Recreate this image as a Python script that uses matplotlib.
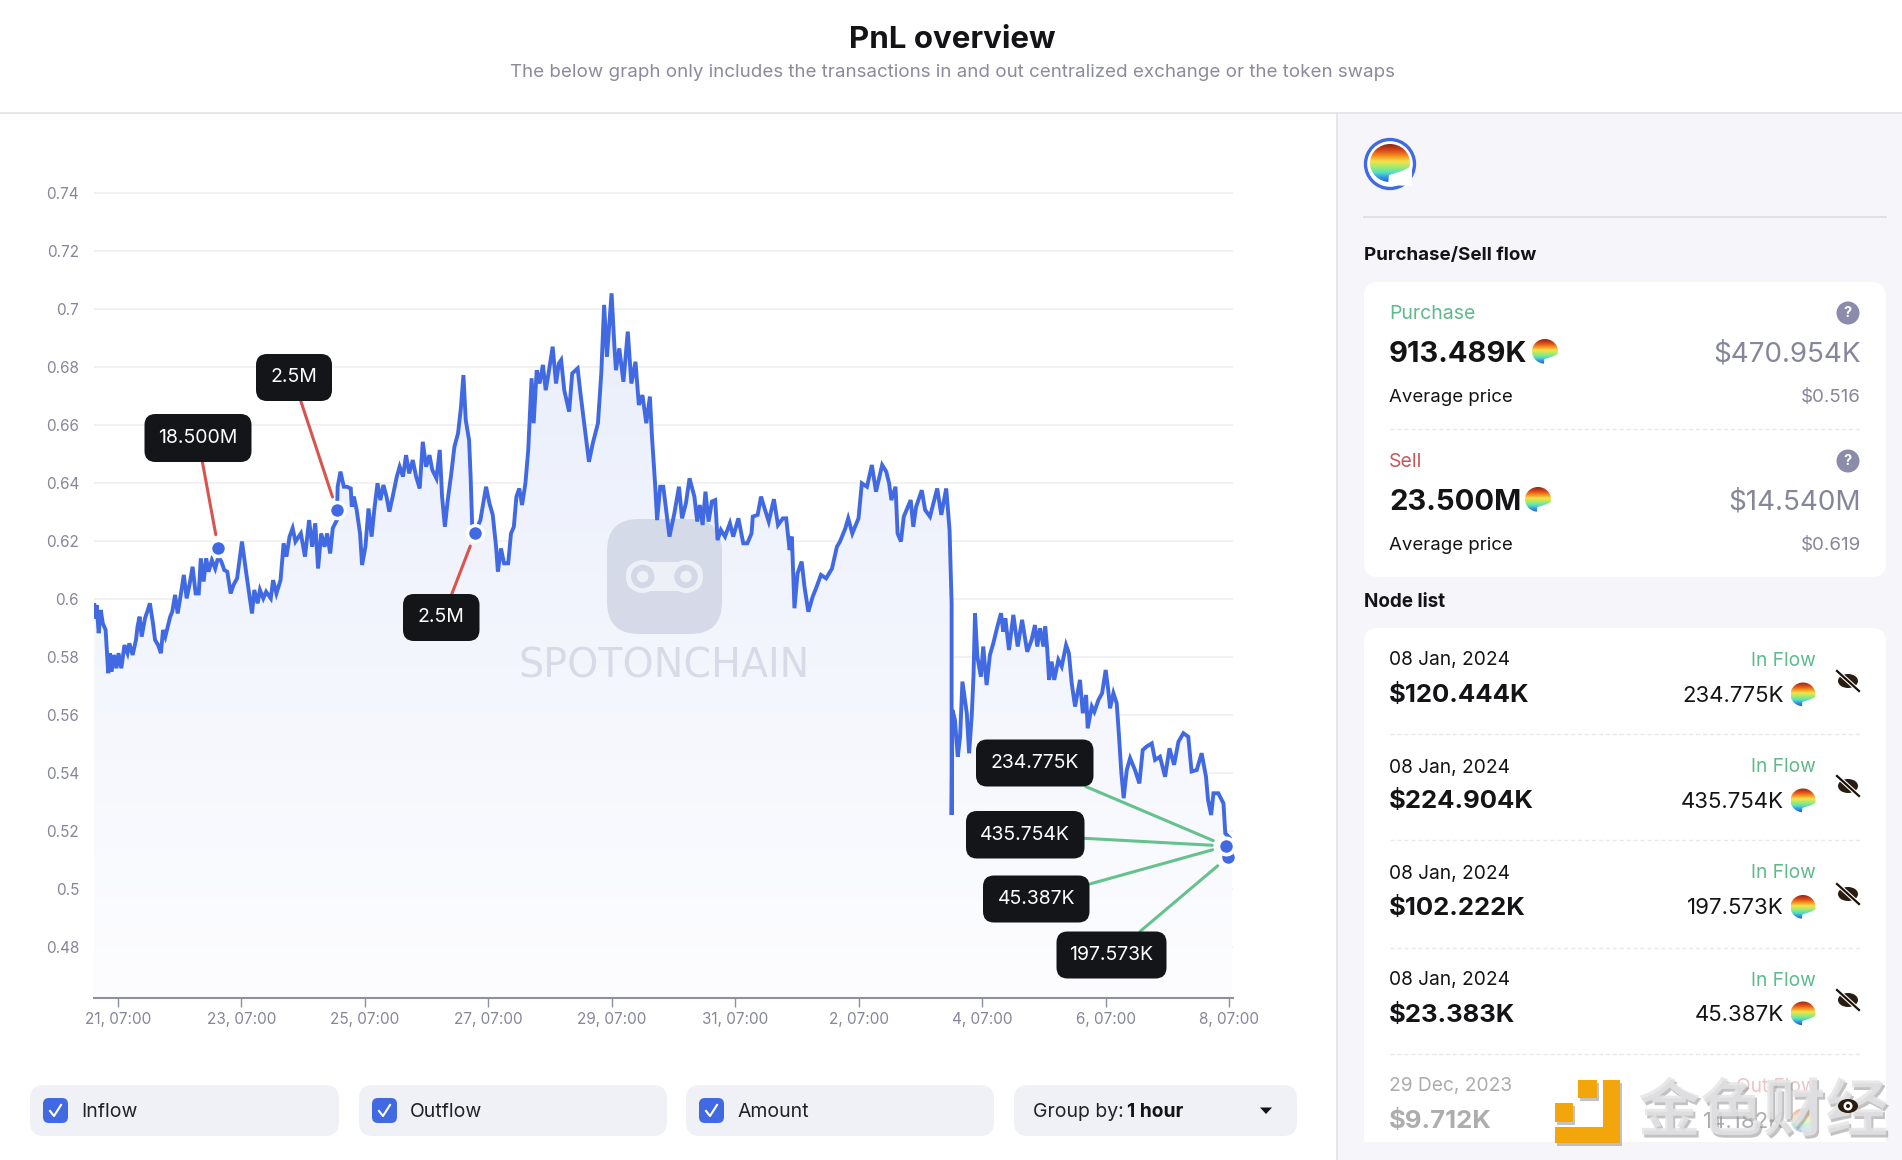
import numpy as np
import matplotlib
matplotlib.use('Agg')
import matplotlib.pyplot as plt
from matplotlib.colors import LinearSegmentedColormap
from matplotlib.patches import Circle, Ellipse, FancyBboxPatch, Polygon, Rectangle
from matplotlib.lines import Line2D
import matplotlib.patheffects as pe

plt.rcParams['font.family'] = ['Inter', 'DejaVu Sans']

W, H = 1902, 1160

# price trace: hours after 21 Dec 07:00 / price in USD
hours = [
    -9.2, -8.9, -8.3, -7.5, -6.7, -5.9, -4.8, -3.8, -3.2, -2.5, -1.6, -0.6, 0.2, 1.3, 2.5, 3.7, 4.4, 5.7, 7.0, 7.6,
    8.4, 9.2, 10.5, 11.6, 12.4, 13.6, 14.4, 15.6, 16.7, 17.5, 18.4, 19.2, 20.3, 21.1, 22.2, 23.2, 24.4, 25.6, 26.7, 27.9,
    29.0, 30.2, 31.4, 32.2, 33.3, 34.3, 35.2, 36.5, 37.8, 39.0, 40.2, 41.3, 42.5, 43.8, 44.9, 46.3, 48.2, 49.7, 50.8, 52.1,
    53.0, 54.3, 55.2, 56.5, 57.6, 59.4, 60.3, 61.6, 63.2, 64.4, 65.5, 66.7, 67.9, 69.0, 71.1, 72.7, 74.3, 75.5, 76.7, 77.8,
    79.0, 80.3, 81.3, 82.5, 83.5, 85.1, 85.4, 86.5, 87.8, 89.0, 90.5, 90.9, 91.7, 92.8, 94.1, 94.9, 96.2, 97.4, 98.6, 99.7,
    100.9, 102.0, 103.2, 104.4, 105.5, 106.8, 108.4, 109.5, 110.8, 112.0, 113.2, 114.6, 115.9, 117.3, 118.5, 119.8, 121.1, 122.2, 123.8, 125.1,
    126.0, 127.1, 128.2, 129.5, 130.8, 132.2, 133.3, 134.3, 135.2, 136.5, 137.1, 137.8, 139.0, 140.9, 143.1, 144.4, 145.7, 147.0, 147.7, 148.9,
    150.1, 151.7, 152.8, 153.9, 154.9, 156.0, 157.1, 158.4, 159.5, 160.8, 161.6, 162.8, 163.9, 165.2, 166.3, 167.4, 169.0, 170.3, 171.4, 172.3,
    173.5, 175.4, 176.6, 178.7, 179.8, 181.4, 183.1, 184.6, 186.6, 187.9, 189.0, 190.1, 191.9, 193.0, 193.6, 194.9, 196.5, 198.2, 199.6, 201.2,
    202.5, 203.9, 205.4, 206.8, 207.6, 208.8, 209.6, 210.8, 212.0, 213.1, 214.4, 216.3, 218.1, 219.3, 220.8, 222.2, 224.1, 225.2, 226.2, 227.3,
    228.4, 229.6, 230.9, 232.2, 233.1, 234.4, 236.0, 237.9, 239.2, 241.2, 243.1, 244.7, 246.3, 246.8, 248.7, 250.0, 251.4, 253.0, 255.0, 256.6,
    258.5, 259.8, 261.1, 262.0, 263.0, 264.2, 265.8, 266.9, 268.4, 270.1, 271.4, 273.3, 275.3, 277.6, 279.5, 280.7, 282.8, 283.9, 285.5, 287.9,
    289.2, 291.2, 293.1, 294.7, 297.1, 298.7, 299.8, 300.7, 302.3, 303.1, 304.4, 305.5, 308.2, 309.2, 310.3, 312.5, 313.8, 315.7, 318.5, 320.1,
    322.0, 323.3, 324.1, 324.1, 324.4, 325.4, 326.5, 327.4, 328.3, 329.1, 330.0, 330.9, 331.9, 332.6, 333.2, 334.1, 335.5, 336.4, 337.7, 339.0,
    340.3, 341.9, 343.3, 344.2, 345.0, 346.4, 348.1, 349.8, 351.5, 353.5, 355.2, 356.5, 357.4, 358.5, 359.8, 360.5, 361.2, 362.0, 363.0, 364.0,
    365.6, 366.9, 368.6, 369.7, 370.8, 372.1, 374.0, 375.1, 376.4, 377.0, 378.6, 379.6, 381.2, 382.6, 384.0, 385.0, 385.7, 387.0, 388.3, 389.2,
    390.1, 391.0, 392.2, 393.5, 395.4, 397.1, 398.4, 399.9, 401.9, 403.2, 405.1, 407.1, 408.8, 410.6, 412.3, 414.2, 416.1, 417.4, 419.4, 421.3,
    423.0, 423.8, 425.0, 425.9, 427.8, 429.8, 430.5, 432.3, 433.0,
]
prices = [
    .5978, .5932, .5978, .5881, .5961, .5915, .5892, .5743, .5812, .5748, .5806, .5760, .5812, .5760, .5840, .5812, .5846, .5806, .5858, .5904,
    .5938, .5869, .5932, .5961, .5984, .5915, .5858, .5840, .5812, .5892, .5869, .5898, .5938, .5955, .6013, .5949, .6013, .6082, .6001, .6053,
    .6110, .6018, .6018, .6139, .6059, .6139, .6093, .6133, .6104, .6145, .6128, .6099, .6093, .6018, .6047, .6070, .6197, .6099, .6030, .5949,
    .6030, .5984, .6030, .6001, .6024, .6001, .6064, .6018, .6064, .6191, .6145, .6214, .6243, .6197, .6225, .6145, .6271, .6179, .6260, .6104,
    .6225, .6179, .6225, .6156, .6243, .6271, .6386, .6438, .6386, .6386, .6380, .6317, .6352, .6306, .6225, .6116, .6179, .6311, .6214, .6311,
    .6398, .6340, .6392, .6352, .6300, .6352, .6421, .6455, .6421, .6495, .6432, .6478, .6421, .6380, .6541, .6455, .6495, .6444, .6415, .6513,
    .6352, .6248, .6340, .6426, .6524, .6570, .6656, .6771, .6616, .6547, .6421, .6225, .6231, .6271, .6386, .6329, .6289, .6179, .6093, .6173,
    .6122, .6122, .6225, .6248, .6352, .6380, .6323, .6398, .6513, .6760, .6605, .6788, .6742, .6806, .6719, .6777, .6869, .6742, .6811, .6823,
    .6719, .6645, .6777, .6794, .6708, .6593, .6472, .6536, .6605, .6777, .7013, .6834, .7053, .6869, .6788, .6863, .6748, .6921, .6742, .6817,
    .6668, .6702, .6605, .6697, .6559, .6398, .6271, .6386, .6386, .6306, .6214, .6294, .6386, .6277, .6329, .6415, .6352, .6266, .6323, .6254,
    .6369, .6266, .6335, .6340, .6202, .6237, .6214, .6260, .6214, .6277, .6191, .6191, .6225, .6283, .6289, .6352, .6311, .6266, .6343, .6254,
    .6277, .6277, .6168, .6214, .5967, .6087, .6128, .6041, .5955, .6007, .6036, .6082, .6070, .6104, .6179, .6197, .6243, .6277, .6225, .6277,
    .6398, .6386, .6461, .6369, .6461, .6438, .6398, .6340, .6386, .6225, .6197, .6283, .6340, .6248, .6317, .6374, .6306, .6283, .6380, .6289,
    .6380, .6237, .5984, .5254, .5616, .5582, .5455, .5524, .5714, .5662, .5605, .5467, .5593, .5731, .5950, .5800, .5731, .5835, .5702, .5806,
    .5846, .5904, .5950, .5886, .5932, .5823, .5944, .5835, .5927, .5817, .5858, .5909, .5835, .5898, .5835, .5904, .5835, .5720, .5783, .5720,
    .5789, .5766, .5840, .5812, .5708, .5628, .5720, .5605, .5668, .5553, .5628, .5610, .5651, .5674, .5754, .5685, .5622, .5674, .5639, .5524,
    .5398, .5312, .5409, .5450, .5409, .5363, .5478, .5490, .5501, .5444, .5455, .5386, .5484, .5427, .5507, .5536, .5524, .5404, .5409, .5467,
    .5386, .5306, .5254, .5329, .5329, .5294, .5191, .5174, .5110,
]

y_ticks = [0.48, 0.5, 0.52, 0.54, 0.56, 0.58, 0.6, 0.62, 0.64, 0.66, 0.68, 0.7, 0.72, 0.74]
x_tick_hours = [0, 48, 96, 144, 192, 240, 288, 336, 384, 432]
x_tick_labels = ['21, 07:00', '23, 07:00', '25, 07:00', '27, 07:00', '29, 07:00',
                 '31, 07:00', '2, 07:00', '4, 07:00', '6, 07:00', '8, 07:00']

# nodes on the curve
sell_hours = [39.0, 85.1, 138.9]
sell_prices = [.6174, .6305, .6226]
sell_labels = ['18.500M', '2.5M', '2.5M']
buy_hours = [430.8, 430.8, 430.8, 431.7]
buy_prices = [.5147, .5147, .5147, .5110]
buy_labels = ['234.775K', '435.754K', '45.387K', '197.573K']

# right panel values
node_dates = ['08 Jan, 2024', '08 Jan, 2024', '08 Jan, 2024', '08 Jan, 2024', '29 Dec, 2023']
node_usd = ['$120.444K', '$224.904K', '$102.222K', '$23.383K', '$9.712K']
node_amounts = ['234.775K', '435.754K', '197.573K', '45.387K', '14.182K']
node_flow = ['In Flow', 'In Flow', 'In Flow', 'In Flow', 'Out Flow']
filters = ['Inflow', 'Outflow', 'Amount']

BLUE = '#4169e1'
GRAY = '#86869a'
DARK = '#141416'
GREEN = '#5fb98b'
RED = '#c8575a'
LINE_RED = '#d9534f'
LINE_GREEN = '#66c28d'

fig = plt.figure(figsize=(W / 100, H / 100), dpi=100, facecolor='white')

# chart axes, placed by pixel box
ax = fig.add_axes([94.3 / W, 1 - 997.7 / H, (1233 - 94.3) / W, (997.7 - 134.7) / H], zorder=1)
# overlay in pixel coords for all the page furniture
page = fig.add_axes([0, 0, 1, 1], zorder=5)
page.set_xlim(0, W)
page.set_ylim(H, 0)
page.axis('off')
page.patch.set_alpha(0)


def rbox(x0, y0, x1, y1, r, color, target=None, **kw):
    p = FancyBboxPatch((x0, y0), x1 - x0, y1 - y0, boxstyle='round,pad=0,rounding_size=%g' % r,
                       fc=color, ec='none', **kw)
    (target or page).add_patch(p)
    return p


def txt(x, y, s, size=13, color=DARK, ha='left', weight='normal', **kw):
    # Inter sits a little high with va=center, nudge it down
    return page.text(x, y + 2, s, fontsize=size, color=color, ha=ha, va='center', fontweight=weight, **kw)


token_cmap = LinearSegmentedColormap.from_list('token', ['#8c2a10', '#d9431a', '#f28c1e', '#f7e04a',
                                                         '#a5ec6a', '#55e0c0', '#2f8fe8', '#2546c8'])


def token(x, y, r, bg='white', alpha=1.0):
    im = page.imshow(np.linspace(0, 1, 64).reshape(-1, 1), cmap=token_cmap, aspect='auto', alpha=alpha,
                     extent=(x - r, x + r, y + r, y - r), zorder=6)
    clip = Ellipse((x, y - 0.05 * r), 2 * r, 1.9 * r, transform=page.transData)
    im.set_clip_path(clip)
    # bite out of the lower right gives the blob shape
    page.add_patch(Polygon([(x - 0.1 * r, y + 1.05 * r), (x - 0.05 * r, y + 0.55 * r), (x + 0.6 * r, y + 0.35 * r),
                            (x + 1.1 * r, y + 0.1 * r), (x + 1.1 * r, y + 1.1 * r)],
                           fc=bg, ec='none', zorder=7, alpha=alpha))


def eye(x, y, slashed=True):
    page.add_patch(Ellipse((x, y), 20, 14, fc='#2b1c10', ec='none', zorder=13))
    if slashed:
        page.add_line(Line2D([x - 11, x + 11], [y - 10, y + 10], color='white', lw=3.2, zorder=14))
        page.add_line(Line2D([x - 11, x + 11], [y - 10, y + 10], color='#1a1208', lw=1.6, zorder=14))
    else:
        page.add_patch(Circle((x, y), 4.5, fc='white', ec='none', zorder=14))
        page.add_patch(Circle((x, y), 2, fc='#2b1c10', ec='none', zorder=15))


# area gradient clipped to the curve
poly = ax.fill_between(hours, prices, 0.4624, color='none')
grad = ax.imshow(np.linspace(1, 0, 128).reshape(-1, 1), aspect='auto', zorder=1.5,
                 cmap=LinearSegmentedColormap.from_list('area', ['#fdfdff', '#e9eefb']),
                 extent=(hours[0], hours[-1], 0.4624, max(prices)))
grad.set_clip_path(poly.get_paths()[0], transform=ax.transData)

# spotonchain watermark sits between area and line
wm = {'transform': page.transData, 'clip_on': False, 'zorder': 2}
rbox(607, 519, 722, 634, 32, '#d3d8e6', target=ax, alpha=0.9, **wm)
rbox(626, 562, 703, 591, 14, '#eef0f8', target=ax, **wm)
for cx in (642.7, 686):
    ax.add_patch(Circle((cx, 576.5), 16.5, fc='#eef0f8', ec='none', **wm))
    ax.add_patch(Circle((cx, 576.5), 8.8, fc='none', ec='#d3d8e6', lw=4.2, transform=page.transData,
                        clip_on=False, zorder=2.1))
ax.text(547.5 * W / 1568, 667, 'SPOTONCHAIN', fontsize=28.5, color='#d8dbe7', ha='center', va='center',
        family='DejaVu Sans', transform=page.transData, zorder=2)

ax.plot(hours, prices, color=BLUE, lw=2.8, zorder=3, solid_joinstyle='miter')

ax.set_xlim(-9.21, 433.5)
ax.set_ylim(0.4624, 0.76)
ax.set_yticks(y_ticks)
ax.set_yticklabels(['%g' % v for v in y_ticks])
ax.set_xticks(x_tick_hours)
ax.set_xticklabels(x_tick_labels)
ax.grid(axis='y', color='#f0f0f4', lw=1.2, zorder=0)
ax.set_axisbelow(True)
for side in ('top', 'left', 'right'):
    ax.spines[side].set_visible(False)
ax.spines['bottom'].set_color('#8f8fa3')
ax.spines['bottom'].set_linewidth(1.5)
ax.tick_params(axis='y', length=0, pad=11, labelsize=11, labelcolor=GRAY)
ax.tick_params(axis='x', length=6.5, width=1, color='#8f8fa3', pad=4, labelsize=11, labelcolor=GRAY)

# callout boxes: x0, y0, x1, y1 and where the leader leaves the box
sell_boxes = [(144.5, 414, 251.5, 462), (256, 354, 332, 401), (403, 594, 479.5, 641)]
sell_exits = [(202.4, 462), (300.8, 401), (451.8, 594)]
buy_boxes = [(976, 739.5, 1093.5, 786.5), (966, 811, 1084.5, 858.5), (983, 875.5, 1089.5, 922.5), (1056.5, 931.5, 1166.5, 978.5)]
buy_exits = [(1085.7, 786.5), (1084.3, 838.3), (1089.7, 884), (1140, 931.5)]

for hs, ps, labels, boxes, exits, col in [(sell_hours, sell_prices, sell_labels, sell_boxes, sell_exits, LINE_RED),
                                          (buy_hours, buy_prices, buy_labels, buy_boxes, buy_exits, LINE_GREEN)]:
    for h, p, lab, b, e in zip(hs, ps, labels, boxes, exits):
        ax.annotate('', xy=(h, p), xytext=e, textcoords=page.transData, annotation_clip=False, zorder=4,
                    arrowprops=dict(arrowstyle='-', color=col, lw=2.2, shrinkA=0, shrinkB=10))
        rbox(b[0], b[1], b[2], b[3], 11, '#141518', zorder=6)
        txt((b[0] + b[2]) / 2, (b[1] + b[3]) / 2 - 2, lab, size=14, color='white', ha='center', zorder=7)
    # reversed so the first node ends up on top
    ax.plot(hs[::-1], ps[::-1], 'o', ms=11.5, mfc=BLUE, mec='white', mew=2.5, zorder=5, clip_on=False)

# header
txt(952, 38, 'PnL overview', size=22.5, ha='center', weight='bold')
txt(952, 70.5, 'The below graph only includes the transactions in and out centralized exchange or the token swaps',
    size=13.5, color='#8b8b9c', ha='center')
page.add_line(Line2D([0, W], [113, 113], color='#e2e2e8', lw=1.2))

# side panel
page.add_patch(Rectangle((1337, 113), W - 1337, H - 113, fc='#f6f6fa', ec='none', zorder=0))
page.add_line(Line2D([1337, 1337], [113, H], color='#e2e2e8', lw=1.2))
page.add_patch(Circle((1390, 164), 24.5, fc='white', ec=BLUE, lw=2.4, zorder=1))
token(1390, 164, 20)
page.add_line(Line2D([1364, 1886], [216.7, 216.7], color='#dcdce3', lw=1.2))

txt(1364, 253, 'Purchase/Sell flow', size=13.5, weight='bold')
rbox(1364, 282, 1886, 577, 14, 'white', zorder=1)

flow_rows = [(313, 'Purchase', GREEN, '913.489K', 1545, '$470.954K', '$0.516'),
             (461, 'Sell', RED, '23.500M', 1538, '$14.540M', '$0.619')]
for y, name, col, amount, tok_x, usd, avg in flow_rows:
    txt(1389, y - 1, name, size=14, color=col)
    page.add_patch(Circle((1848, y), 11.5, fc='#8b8baa', ec='none', zorder=3))
    txt(1848, y - 2, '?', size=10.5, color='white', ha='center', weight='bold', zorder=4)
    txt(1389, y + 39, amount, size=21, weight='bold')
    token(tok_x, y + 39, 13)
    txt(1861, y + 39, usd, size=20, color=GRAY, ha='right')
    txt(1389, y + 83, 'Average price', size=13.4)
    txt(1861, y + 83, avg, size=13.5, color=GRAY, ha='right')
page.add_line(Line2D([1390, 1860], [429, 429], color='#e9e9ee', lw=1, ls=(0, (3, 2))))

txt(1364, 600, 'Node list', size=13.6, weight='bold')
rbox(1364, 628, 1886, 700, 14, 'white', zorder=1)
page.add_patch(Rectangle((1364, 650), 522, 492, fc='white', ec='none', zorder=1))

row_date_y = [658.5, 765.5, 871.5, 978.5, 1084.5]
row_usd_y = [694, 800, 906.5, 1013, 1120]
row_eye_y = [681, 786, 894, 1000, 1106]
row_sep_y = [734, 840, 947.5, 1054]
for i in range(5):
    faded = i == 4
    a = 0.35 if faded else 1.0
    txt(1389, row_date_y[i], node_dates[i], size=13.8, alpha=a)
    txt(1389, row_usd_y[i], node_usd[i], size=18.5, weight='bold', alpha=a)
    txt(1816, row_date_y[i], node_flow[i], size=13.8, color=RED if faded else GREEN, ha='right', alpha=a)
    txt(1784, row_usd_y[i], node_amounts[i], size=16, ha='right', alpha=a)
    token(1803, row_usd_y[i] + 1, 12.5, alpha=a)
    eye(1848, row_eye_y[i], slashed=not faded)
for y in row_sep_y:
    page.add_line(Line2D([1390, 1860], [y, y], color='#e9e9ee', lw=1, ls=(0, (3, 2))))

# filter row
filter_boxes = [(30, 339), (359, 667), (686, 994)]
check_x = [43, 372, 699]
label_x = [81, 410, 738]
for (x0, x1), cx, lx, name in zip(filter_boxes, check_x, label_x, filters):
    rbox(x0, 1085, x1, 1136, 14, '#f0f1f6', zorder=1)
    rbox(cx, 1098, cx + 25, 1123, 6, BLUE, zorder=2)
    page.add_line(Line2D([cx + 7, cx + 11, cx + 18], [1111, 1116, 1105], color='white', lw=1.5, zorder=3))
    txt(lx, 1110, name, size=14, color='#222226')
rbox(1014, 1085, 1297, 1136, 14, '#f0f1f6', zorder=1)
txt(1033, 1110, 'Group by:', size=14, color='#222226')
txt(1127, 1110, '1 hour', size=13.8, weight='bold')
page.add_patch(Polygon([(1260, 1107.5), (1272, 1107.5), (1266, 1114)], fc=DARK, ec='none', zorder=3))

# 金色财经 stamp over the corner
shadow = [pe.withSimplePatchShadow(offset=(1.5, -2), shadow_rgbFace='#9a9a9a', alpha=0.6)]
orange = '#f2a60c'
for xy in ([(1603, 1080), (1620, 1080), (1620, 1143), (1555, 1143), (1555, 1127), (1603, 1127)],
           [(1578, 1080), (1597, 1080), (1597, 1098), (1578, 1098)],
           [(1555, 1103), (1573, 1103), (1573, 1122), (1555, 1122)]):
    page.add_patch(Polygon(xy, fc=orange, ec='none', zorder=12, path_effects=shadow))
page.text(1763, 1112, '金色财经', fontsize=45, color='#e4e4e6', ha='center', va='center', fontweight='bold',
          family=['Noto Sans CJK SC', 'DejaVu Sans'], alpha=0.85, zorder=12, path_effects=shadow)

page.set_xlim(0, W)
page.set_ylim(H, 0)
fig.savefig('out.png', dpi=100, facecolor='white')
